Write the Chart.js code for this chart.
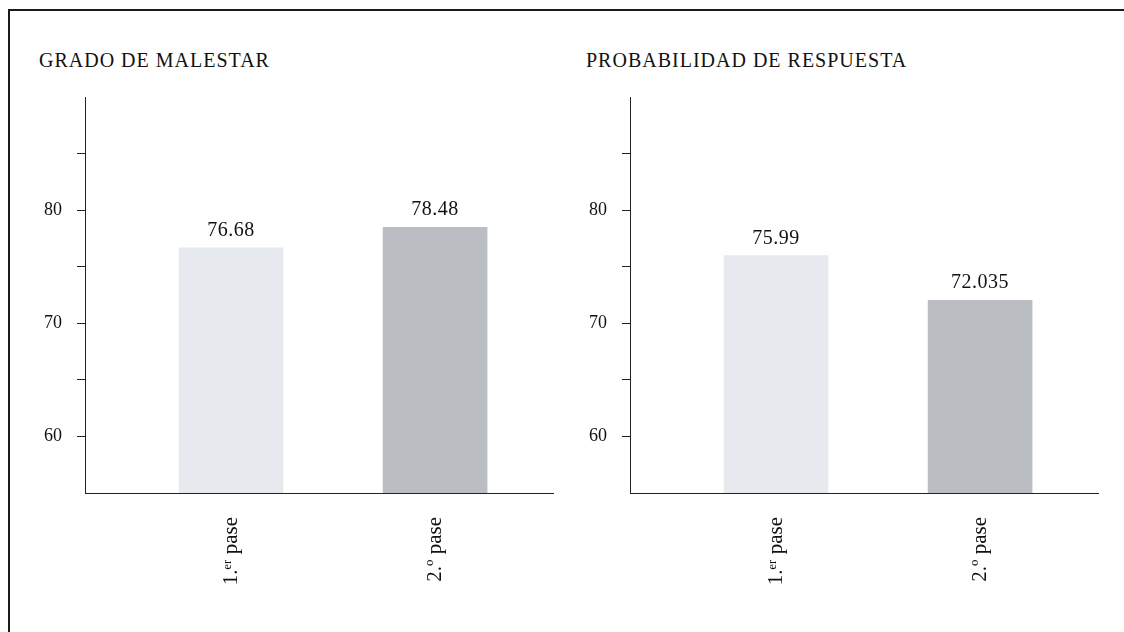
<!DOCTYPE html>
<html>
<head>
<meta charset="utf-8">
<script src="https://cdn.jsdelivr.net/npm/chart.js@4.4.1/dist/chart.umd.min.js"></script>
<style>
  html, body { margin: 0; padding: 0; background: #fff; }
  #page { position: relative; width: 1124px; height: 632px; overflow: hidden; background: #fff; }
  #frame { position: absolute; left: 8px; top: 9px; width: 1130px; height: 640px;
           border-top: 2px solid #1a1a1a; border-left: 2px solid #1a1a1a; }
  .title { position: absolute; font-family: "Liberation Serif", "Times New Roman", serif;
           font-size: 20px; line-height: 20px; letter-spacing: 1px; color: #111; white-space: nowrap; }
  canvas { position: absolute; }
</style>
</head>
<body>
<div id="page">
  <div id="frame"></div>
  <div class="title" id="t1" style="left:39px; top:50px;"></div>
  <div class="title" id="t2" style="left:586px; top:50px;"></div>
  <canvas id="c1" width="521" height="552" style="left:39px; top:80px;"></canvas>
  <canvas id="c2" width="538" height="552" style="left:586px; top:80px;"></canvas>
</div>
<script>
// ---- data ----
const categories = ['1.ᵉʳ pase', '2.º pase'];
const malestarValues = [76.68, 78.48];
const respuestaValues = [75.99, 72.035];
const yTicks = [60, 65, 70, 75, 80, 85];
const yLabeled = [60, 70, 80];
const titles = ['GRADO DE MALESTAR', 'PROBABILIDAD DE RESPUESTA'];
const barColors = ['#e6eaee', '#babec2'];

document.getElementById('t1').textContent = titles[0];
document.getElementById('t2').textContent = titles[1];

const SERIF = '"Liberation Serif", "Times New Roman", serif';

const valueLabels = {
  id: 'valueLabels',
  afterDatasetsDraw(chart) {
    const ctx = chart.ctx;
    ctx.save();
    ctx.font = '20px ' + SERIF;
    ctx.fillStyle = '#111';
    ctx.textAlign = 'center';
    ctx.textBaseline = 'alphabetic';
    try { ctx.letterSpacing = '0.5px'; } catch (e) {}
    chart.getDatasetMeta(0).data.forEach((bar, i) => {
      const v = chart.data.datasets[0].data[i].y;
      ctx.fillText(String(v), bar.x, bar.y - 12);
    });
    ctx.restore();
  }
};

function makeChart(id, values, yWidth, padRight) {
  return new Chart(document.getElementById(id), {
    type: 'bar',
    data: {
      datasets: [{
        data: categories.map((c, i) => ({ x: i + 1, y: values[i] })),
        backgroundColor: barColors,
        borderWidth: 0,
        barThickness: 104
      }]
    },
    plugins: [valueLabels],
    options: {
      responsive: false,
      animation: false,
      devicePixelRatio: 1,
      layout: { padding: { left: 0, right: padRight, top: 17, bottom: 19 } },
      plugins: { legend: { display: false }, tooltip: { enabled: false }, title: { display: false } },
      scales: {
        x: {
          type: 'linear',
          offset: false,
          min: 0.284,
          max: 2.578,
          z: 1,
          afterBuildTicks: (s) => { s.ticks = categories.map((c, i) => ({ value: i + 1 })); },
          afterFit: (s) => { s.height = 120; s.paddingLeft = 0; s.paddingRight = 0; },
          grid: { display: false, drawTicks: false, offset: false },
          border: { display: true, color: '#222', width: 1 },
          ticks: {
            autoSkip: false,
            minRotation: 90,
            maxRotation: 90,
            padding: 24,
            color: '#111',
            font: { family: SERIF, size: 21 },
            callback: (v) => categories[v - 1] || ''
          }
        },
        y: {
          min: 55,
          max: 90,
          afterBuildTicks: (s) => { s.ticks = yTicks.map(v => ({ value: v })); },
          afterFit: (s) => { s.width = yWidth; s.paddingTop = 0; s.paddingBottom = 0; },
          grid: { display: true, drawOnChartArea: false, drawTicks: true, tickLength: 8, color: '#222', lineWidth: 1 },
          border: { display: true, color: '#222', width: 1 },
          ticks: {
            padding: 15,
            color: '#111',
            font: { family: SERIF, size: 18 },
            callback: (v) => yLabeled.includes(v) ? String(v) : ''
          }
        }
      }
    }
  });
}

makeChart('c1', malestarValues, 46, 7);
makeChart('c2', respuestaValues, 44, 26);
</script>
</body>
</html>
